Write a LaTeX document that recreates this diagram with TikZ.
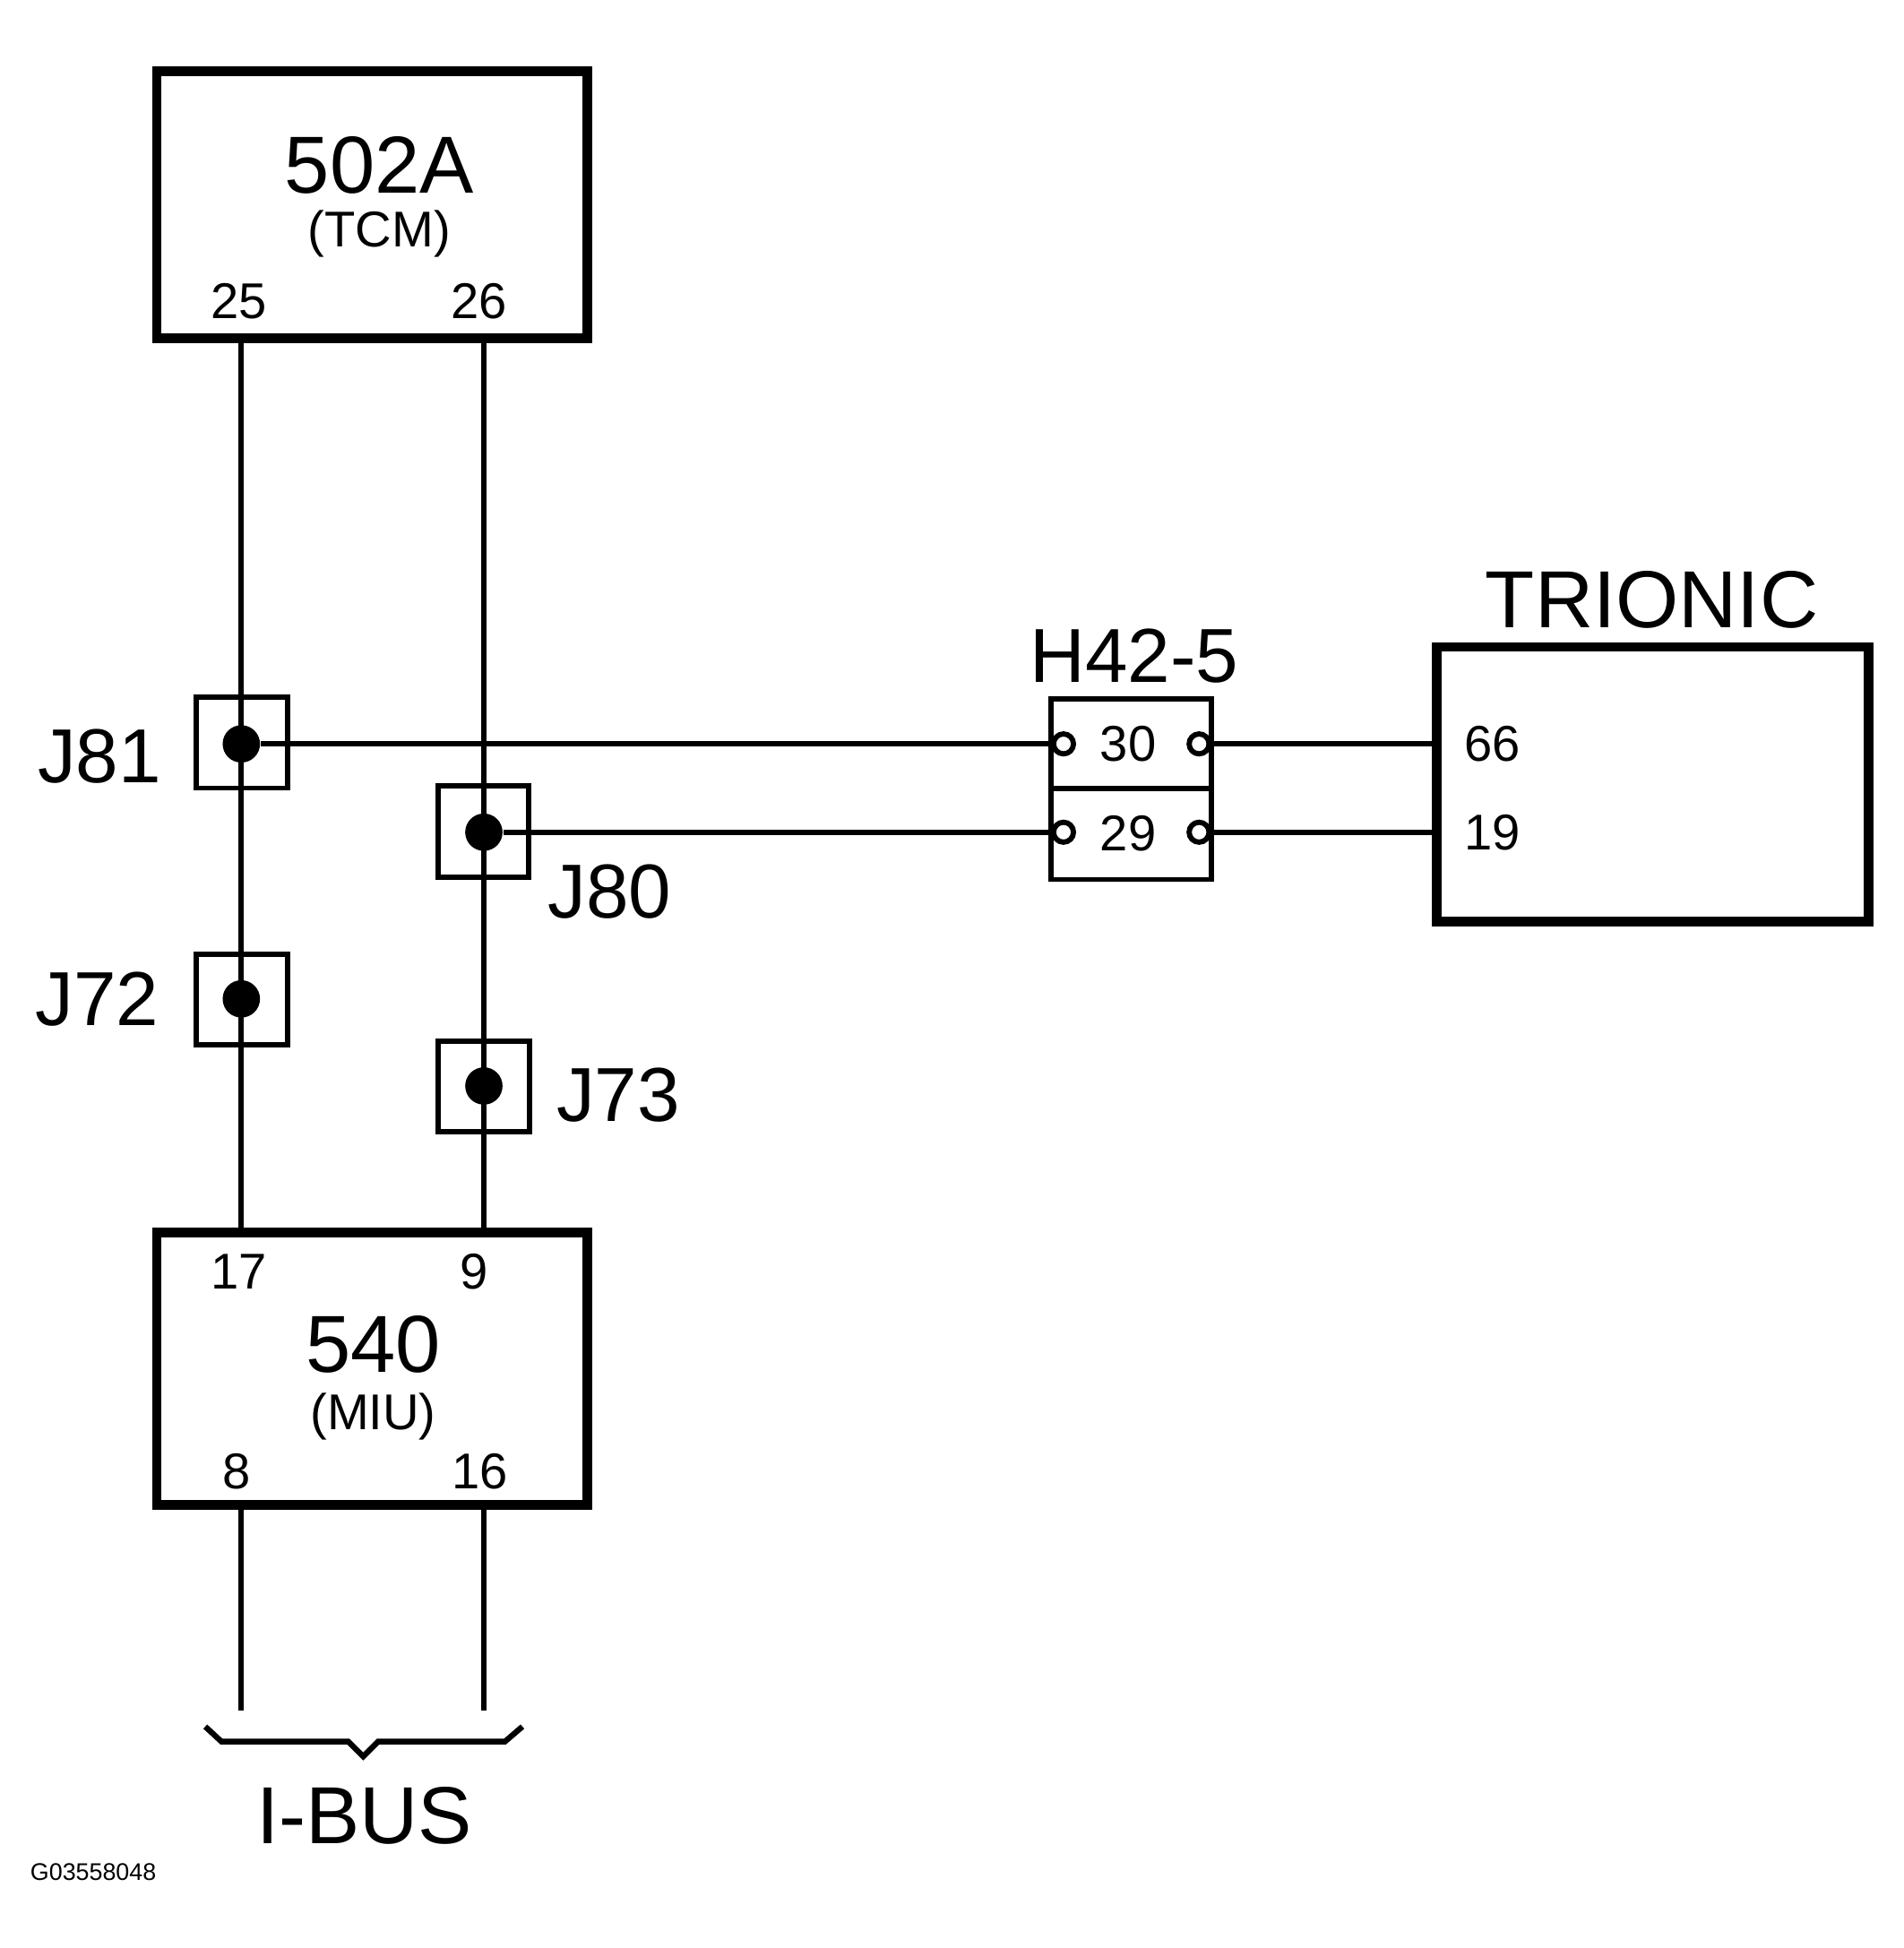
\documentclass[tikz,border=0pt]{standalone}
\usepackage{fontspec}
\setmainfont{Liberation Sans}
\begin{document}
\begin{tikzpicture}[x=0.01cm,y=-0.01cm,
  wire/.style={line width=1.2pt},
  big/.style={line width=2.2pt,draw,inner sep=0,minimum width=346*0.01cm},
  jbox/.style={draw,line width=1.2pt,minimum size=0.73cm,inner sep=0},
  dot/.style={circle,fill,inner sep=0,minimum size=0.3cm},
  pin/.style={circle,draw,line width=1.2pt,fill=white,inner sep=0,minimum size=0.16cm},
  lbl/.style={font=\fontsize{17.5}{20}\selectfont,inner sep=0},
  num/.style={font=\fontsize{11.5}{13}\selectfont,inner sep=0},
  title/.style={font=\fontsize{18.5}{22}\selectfont,inner sep=0}]
\useasboundingbox (0,0) rectangle (1530,1566);
\node[big,minimum height=215*0.01cm] (tcm) at (299,164.5) {};
\node[title] at (305,133) {502A};
\node[num] at (305,188) {(TCM)};
\node[num] at (192,242) {25};
\node[num] at (385,242) {26};
\node[big,minimum height=219*0.01cm] (miu) at (299,1100.5) {};
\node[num] at (192,1022) {17};
\node[num] at (381,1022) {9};
\node[title] at (300,1081) {540};
\node[num] at (300,1139) {(MIU)};
\node[num] at (190,1183) {8};
\node[num] at (386,1183) {16};
\node[big,minimum width=347*0.01cm,minimum height=221*0.01cm] (tri) at (1328.5,630.5) {};
\node[title] at (1328,482) {TRIONIC};
\node[num] at (1200,598) {66};
\node[num] at (1200,669) {19};
\draw[line width=1.2pt] (845,562) rectangle (974,707);
\draw[line width=1.2pt] (845,634) -- (974,634);
\node[lbl] at (912,527) {H42-5};
\node[pin] (p30a) at (855,598) {};
\node[pin] (p30b) at (964,598) {};
\node[pin] (p29a) at (855,669) {};
\node[pin] (p29b) at (964,669) {};
\node[num] at (907,598) {30};
\node[num] at (907,670) {29};
\coordinate (t25) at (194,272); \coordinate (t26) at (389,272);
\coordinate (m17) at (194,991); \coordinate (m9) at (389,991);
\coordinate (m8) at (194,1210); \coordinate (m16) at (389,1210);
\coordinate (e8) at (194,1375); \coordinate (e16) at (389,1375);
\coordinate (t66) at (1155,598); \coordinate (t19) at (1155,669);
\draw[wire] (t25) -- (m17);
\draw[wire] (t26) -- (m9);
\draw[wire] (m8) -- (e8);
\draw[wire] (m16) -- (e16);
\node[jbox] (j81) at (194.5,597) {};
\node[jbox] (j80) at (388.5,668.5) {};
\node[jbox] (j72) at (194.5,803.5) {};
\node[jbox] (j73) at (389,873.5) {};
\node[dot] (d81) at (194,598) {};
\node[dot] (d80) at (389,669) {};
\node[dot] at (194,803) {};
\node[dot] at (389,873) {};
\node[lbl] at (80,608) {J81};
\node[lbl] at (490,717) {J80};
\node[lbl] at (78,803) {J72};
\node[lbl] at (497,880) {J73};
\draw[wire] (d81) -- (p30a);
\draw[wire] (d80) -- (p29a);
\draw[wire] (p30b) -- (t66);
\draw[wire] (p29b) -- (t19);
\draw[line width=1.3pt] (165,1388) -- (178,1400) -- (280,1400) -- (292,1412) -- (304,1400) -- (406,1400) -- (420,1388);
\node[title] at (293,1460) {I-BUS};
\node[font=\fontsize{5.5}{7}\selectfont,inner sep=0] at (75,1505) {G03558048};
\end{tikzpicture}
\end{document}
